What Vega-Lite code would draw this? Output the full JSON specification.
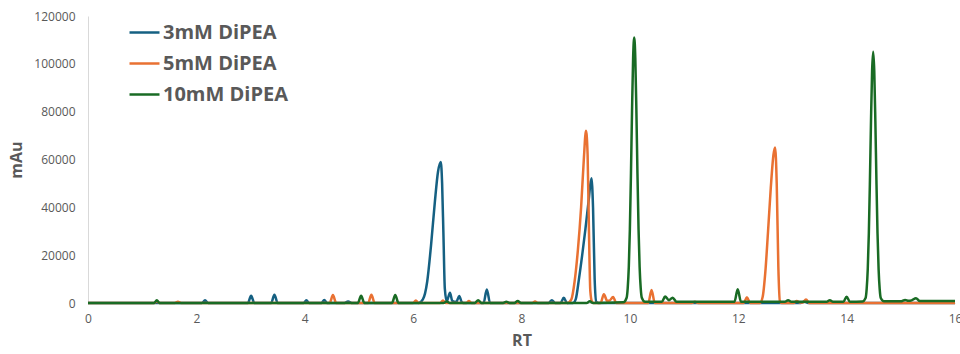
{
  "$schema": "https://vega.github.io/schema/vega-lite/v6.json",
  "autosize": {"type": "none"},
  "padding": {"left": 88, "top": 16, "right": 5, "bottom": 51},
  "width": 867,
  "height": 287,
  "background": "white",
  "config": {
    "view": {"stroke": null},
    "font": "Open Sans",
    "axis": {"grid": false, "ticks": false, "domainColor": "#D9D9D9", "domainWidth": 1, "labelColor": "#595959", "labelFontSize": 12, "titleColor": "#595959", "titleFontSize": 16, "titleFontWeight": "bold"},
    "legend": {"padding": 0}
  },
  "data": {"values": [
    {"series":"3mM DiPEA","rt":0,"mau":0},{"series":"3mM DiPEA","rt":2.10,"mau":0},{"series":"3mM DiPEA","rt":2.16,"mau":1100},{"series":"3mM DiPEA","rt":2.22,"mau":0},
    {"series":"3mM DiPEA","rt":2.95,"mau":0},{"series":"3mM DiPEA","rt":3.01,"mau":3000},{"series":"3mM DiPEA","rt":3.07,"mau":0},
    {"series":"3mM DiPEA","rt":3.38,"mau":0},{"series":"3mM DiPEA","rt":3.44,"mau":3400},{"series":"3mM DiPEA","rt":3.50,"mau":0},
    {"series":"3mM DiPEA","rt":3.98,"mau":0},{"series":"3mM DiPEA","rt":4.03,"mau":1200},{"series":"3mM DiPEA","rt":4.08,"mau":0},
    {"series":"3mM DiPEA","rt":4.31,"mau":0},{"series":"3mM DiPEA","rt":4.36,"mau":1300},{"series":"3mM DiPEA","rt":4.41,"mau":0},
    {"series":"3mM DiPEA","rt":4.72,"mau":0},{"series":"3mM DiPEA","rt":4.80,"mau":600},{"series":"3mM DiPEA","rt":4.88,"mau":0},
    {"series":"3mM DiPEA","rt":6.10,"mau":0},{"series":"3mM DiPEA","rt":6.18,"mau":1500},{"series":"3mM DiPEA","rt":6.26,"mau":9000},{"series":"3mM DiPEA","rt":6.33,"mau":24000},{"series":"3mM DiPEA","rt":6.40,"mau":42000},{"series":"3mM DiPEA","rt":6.46,"mau":55000},{"series":"3mM DiPEA","rt":6.51,"mau":59000},{"series":"3mM DiPEA","rt":6.535,"mau":50000},{"series":"3mM DiPEA","rt":6.56,"mau":28000},{"series":"3mM DiPEA","rt":6.585,"mau":6000},{"series":"3mM DiPEA","rt":6.62,"mau":700},
    {"series":"3mM DiPEA","rt":6.68,"mau":4300},{"series":"3mM DiPEA","rt":6.72,"mau":1000},{"series":"3mM DiPEA","rt":6.76,"mau":500},{"series":"3mM DiPEA","rt":6.80,"mau":600},{"series":"3mM DiPEA","rt":6.85,"mau":2900},{"series":"3mM DiPEA","rt":6.90,"mau":300},{"series":"3mM DiPEA","rt":6.95,"mau":0},
    {"series":"3mM DiPEA","rt":7.30,"mau":0},{"series":"3mM DiPEA","rt":7.36,"mau":5600},{"series":"3mM DiPEA","rt":7.42,"mau":0},
    {"series":"3mM DiPEA","rt":8.50,"mau":0},{"series":"3mM DiPEA","rt":8.56,"mau":1200},{"series":"3mM DiPEA","rt":8.62,"mau":0},
    {"series":"3mM DiPEA","rt":8.72,"mau":0},{"series":"3mM DiPEA","rt":8.78,"mau":2200},{"series":"3mM DiPEA","rt":8.84,"mau":0},
    {"series":"3mM DiPEA","rt":8.95,"mau":0},{"series":"3mM DiPEA","rt":9.00,"mau":1500},{"series":"3mM DiPEA","rt":9.06,"mau":10000},{"series":"3mM DiPEA","rt":9.12,"mau":20000},{"series":"3mM DiPEA","rt":9.18,"mau":31000},{"series":"3mM DiPEA","rt":9.24,"mau":43000},{"series":"3mM DiPEA","rt":9.29,"mau":52200},{"series":"3mM DiPEA","rt":9.32,"mau":40000},{"series":"3mM DiPEA","rt":9.35,"mau":10000},{"series":"3mM DiPEA","rt":9.38,"mau":500},{"series":"3mM DiPEA","rt":9.42,"mau":0},
    {"series":"3mM DiPEA","rt":13.15,"mau":0},{"series":"3mM DiPEA","rt":13.22,"mau":600},{"series":"3mM DiPEA","rt":13.29,"mau":0},{"series":"3mM DiPEA","rt":16,"mau":0},

    {"series":"5mM DiPEA","rt":0,"mau":0},{"series":"5mM DiPEA","rt":1.22,"mau":0},{"series":"5mM DiPEA","rt":1.27,"mau":700},{"series":"5mM DiPEA","rt":1.32,"mau":0},
    {"series":"5mM DiPEA","rt":1.60,"mau":0},{"series":"5mM DiPEA","rt":1.66,"mau":500},{"series":"5mM DiPEA","rt":1.72,"mau":0},
    {"series":"5mM DiPEA","rt":4.46,"mau":0},{"series":"5mM DiPEA","rt":4.52,"mau":3300},{"series":"5mM DiPEA","rt":4.58,"mau":0},
    {"series":"5mM DiPEA","rt":5.17,"mau":0},{"series":"5mM DiPEA","rt":5.23,"mau":3400},{"series":"5mM DiPEA","rt":5.29,"mau":0},
    {"series":"5mM DiPEA","rt":6.00,"mau":0},{"series":"5mM DiPEA","rt":6.05,"mau":1000},{"series":"5mM DiPEA","rt":6.10,"mau":0},
    {"series":"5mM DiPEA","rt":6.50,"mau":0},{"series":"5mM DiPEA","rt":6.55,"mau":1000},{"series":"5mM DiPEA","rt":6.60,"mau":0},
    {"series":"5mM DiPEA","rt":6.98,"mau":0},{"series":"5mM DiPEA","rt":7.03,"mau":800},{"series":"5mM DiPEA","rt":7.08,"mau":0},
    {"series":"5mM DiPEA","rt":8.20,"mau":0},{"series":"5mM DiPEA","rt":8.25,"mau":600},{"series":"5mM DiPEA","rt":8.30,"mau":0},
    {"series":"5mM DiPEA","rt":8.85,"mau":0},{"series":"5mM DiPEA","rt":8.92,"mau":1500},{"series":"5mM DiPEA","rt":8.98,"mau":9000},{"series":"5mM DiPEA","rt":9.04,"mau":22000},{"series":"5mM DiPEA","rt":9.10,"mau":40000},{"series":"5mM DiPEA","rt":9.15,"mau":60000},{"series":"5mM DiPEA","rt":9.19,"mau":72000},{"series":"5mM DiPEA","rt":9.22,"mau":62000},{"series":"5mM DiPEA","rt":9.245,"mau":30000},{"series":"5mM DiPEA","rt":9.27,"mau":5000},{"series":"5mM DiPEA","rt":9.30,"mau":600},{"series":"5mM DiPEA","rt":9.33,"mau":0},
    {"series":"5mM DiPEA","rt":9.46,"mau":0},{"series":"5mM DiPEA","rt":9.52,"mau":3700},{"series":"5mM DiPEA","rt":9.58,"mau":900},{"series":"5mM DiPEA","rt":9.62,"mau":900},{"series":"5mM DiPEA","rt":9.69,"mau":2500},{"series":"5mM DiPEA","rt":9.75,"mau":0},
    {"series":"5mM DiPEA","rt":10.34,"mau":0},{"series":"5mM DiPEA","rt":10.40,"mau":5400},{"series":"5mM DiPEA","rt":10.46,"mau":0},
    {"series":"5mM DiPEA","rt":11.14,"mau":0},{"series":"5mM DiPEA","rt":11.20,"mau":500},{"series":"5mM DiPEA","rt":11.26,"mau":0},
    {"series":"5mM DiPEA","rt":12.10,"mau":0},{"series":"5mM DiPEA","rt":12.16,"mau":2400},{"series":"5mM DiPEA","rt":12.22,"mau":0},
    {"series":"5mM DiPEA","rt":12.40,"mau":0},{"series":"5mM DiPEA","rt":12.45,"mau":2500},{"series":"5mM DiPEA","rt":12.50,"mau":13000},{"series":"5mM DiPEA","rt":12.55,"mau":30000},{"series":"5mM DiPEA","rt":12.60,"mau":48000},{"series":"5mM DiPEA","rt":12.65,"mau":62000},{"series":"5mM DiPEA","rt":12.68,"mau":65000},{"series":"5mM DiPEA","rt":12.71,"mau":50000},{"series":"5mM DiPEA","rt":12.74,"mau":15000},{"series":"5mM DiPEA","rt":12.77,"mau":500},{"series":"5mM DiPEA","rt":12.80,"mau":0},
    {"series":"5mM DiPEA","rt":13.02,"mau":0},{"series":"5mM DiPEA","rt":13.08,"mau":800},{"series":"5mM DiPEA","rt":13.14,"mau":200},{"series":"5mM DiPEA","rt":13.19,"mau":200},{"series":"5mM DiPEA","rt":13.25,"mau":1500},{"series":"5mM DiPEA","rt":13.31,"mau":0},{"series":"5mM DiPEA","rt":16,"mau":0},

    {"series":"10mM DiPEA","rt":0,"mau":0},{"series":"10mM DiPEA","rt":1.22,"mau":0},{"series":"10mM DiPEA","rt":1.27,"mau":1200},{"series":"10mM DiPEA","rt":1.32,"mau":0},
    {"series":"10mM DiPEA","rt":4.98,"mau":0},{"series":"10mM DiPEA","rt":5.04,"mau":3000},{"series":"10mM DiPEA","rt":5.10,"mau":0},
    {"series":"10mM DiPEA","rt":5.61,"mau":0},{"series":"10mM DiPEA","rt":5.67,"mau":3300},{"series":"10mM DiPEA","rt":5.73,"mau":0},
    {"series":"10mM DiPEA","rt":6.56,"mau":0},{"series":"10mM DiPEA","rt":6.62,"mau":600},{"series":"10mM DiPEA","rt":6.68,"mau":0},
    {"series":"10mM DiPEA","rt":7.14,"mau":0},{"series":"10mM DiPEA","rt":7.20,"mau":1200},{"series":"10mM DiPEA","rt":7.26,"mau":0},
    {"series":"10mM DiPEA","rt":7.66,"mau":0},{"series":"10mM DiPEA","rt":7.72,"mau":500},{"series":"10mM DiPEA","rt":7.78,"mau":0},
    {"series":"10mM DiPEA","rt":7.87,"mau":0},{"series":"10mM DiPEA","rt":7.93,"mau":800},{"series":"10mM DiPEA","rt":7.99,"mau":0},
    {"series":"10mM DiPEA","rt":9.20,"mau":0},{"series":"10mM DiPEA","rt":9.26,"mau":700},{"series":"10mM DiPEA","rt":9.32,"mau":0},
    {"series":"10mM DiPEA","rt":9.88,"mau":300},{"series":"10mM DiPEA","rt":9.94,"mau":2200},{"series":"10mM DiPEA","rt":9.96,"mau":6200},{"series":"10mM DiPEA","rt":9.98,"mau":15000},{"series":"10mM DiPEA","rt":10.00,"mau":30900},{"series":"10mM DiPEA","rt":10.02,"mau":54100},{"series":"10mM DiPEA","rt":10.04,"mau":80600},{"series":"10mM DiPEA","rt":10.06,"mau":102500},{"series":"10mM DiPEA","rt":10.08,"mau":111000},{"series":"10mM DiPEA","rt":10.10,"mau":102500},{"series":"10mM DiPEA","rt":10.12,"mau":80600},{"series":"10mM DiPEA","rt":10.14,"mau":54100},{"series":"10mM DiPEA","rt":10.16,"mau":30900},{"series":"10mM DiPEA","rt":10.18,"mau":15000},{"series":"10mM DiPEA","rt":10.20,"mau":6200},{"series":"10mM DiPEA","rt":10.22,"mau":2200},{"series":"10mM DiPEA","rt":10.28,"mau":500},
    {"series":"10mM DiPEA","rt":10.59,"mau":500},{"series":"10mM DiPEA","rt":10.65,"mau":2700},{"series":"10mM DiPEA","rt":10.72,"mau":1200},{"series":"10mM DiPEA","rt":10.79,"mau":2200},{"series":"10mM DiPEA","rt":10.86,"mau":500},
    {"series":"10mM DiPEA","rt":11.93,"mau":500},{"series":"10mM DiPEA","rt":11.99,"mau":5700},{"series":"10mM DiPEA","rt":12.05,"mau":500},
    {"series":"10mM DiPEA","rt":12.86,"mau":500},{"series":"10mM DiPEA","rt":12.92,"mau":1200},{"series":"10mM DiPEA","rt":12.98,"mau":500},
    {"series":"10mM DiPEA","rt":13.63,"mau":500},{"series":"10mM DiPEA","rt":13.69,"mau":1200},{"series":"10mM DiPEA","rt":13.75,"mau":500},
    {"series":"10mM DiPEA","rt":13.94,"mau":500},{"series":"10mM DiPEA","rt":14.00,"mau":2600},{"series":"10mM DiPEA","rt":14.06,"mau":500},
    {"series":"10mM DiPEA","rt":14.29,"mau":600},{"series":"10mM DiPEA","rt":14.35,"mau":2100},{"series":"10mM DiPEA","rt":14.37,"mau":5900},{"series":"10mM DiPEA","rt":14.39,"mau":14200},{"series":"10mM DiPEA","rt":14.41,"mau":29200},{"series":"10mM DiPEA","rt":14.43,"mau":51200},{"series":"10mM DiPEA","rt":14.45,"mau":76300},{"series":"10mM DiPEA","rt":14.47,"mau":97000},{"series":"10mM DiPEA","rt":14.49,"mau":105100},{"series":"10mM DiPEA","rt":14.51,"mau":97000},{"series":"10mM DiPEA","rt":14.53,"mau":76300},{"series":"10mM DiPEA","rt":14.55,"mau":51200},{"series":"10mM DiPEA","rt":14.57,"mau":29200},{"series":"10mM DiPEA","rt":14.59,"mau":14200},{"series":"10mM DiPEA","rt":14.61,"mau":5900},{"series":"10mM DiPEA","rt":14.63,"mau":2100},{"series":"10mM DiPEA","rt":14.69,"mau":700},
    {"series":"10mM DiPEA","rt":15.00,"mau":700},{"series":"10mM DiPEA","rt":15.08,"mau":1300},{"series":"10mM DiPEA","rt":15.14,"mau":900},{"series":"10mM DiPEA","rt":15.20,"mau":1100},{"series":"10mM DiPEA","rt":15.28,"mau":2000},{"series":"10mM DiPEA","rt":15.35,"mau":800},{"series":"10mM DiPEA","rt":16,"mau":800}
  ]},
  "mark": {"type": "line", "interpolate": "monotone", "strokeWidth": 2.5},
  "encoding": {
    "x": {"field": "rt", "type": "quantitative", "title": "RT",
      "scale": {"domain": [0, 16], "nice": false},
      "axis": {"values": [0, 2, 4, 6, 8, 10, 12, 14, 16], "labelFlush": false, "labelPadding": 10, "titlePadding": 8, "domain": true}},
    "y": {"field": "mau", "type": "quantitative", "title": "mAu",
      "scale": {"domain": [0, 120000], "nice": false},
      "axis": {"values": [0, 20000, 40000, 60000, 80000, 100000, 120000], "format": "d", "labelPadding": 13, "titlePadding": 9}},
    "color": {"field": "series", "type": "nominal",
      "scale": {"domain": ["3mM DiPEA", "5mM DiPEA", "10mM DiPEA"], "range": ["#156082", "#E97132", "#196B24"]},
      "legend": {"title": null, "orient": "none", "legendX": 40, "legendY": 0, "symbolType": "stroke", "symbolSize": 900, "symbolStrokeWidth": 2.5, "labelFontSize": 20, "labelFontWeight": "bold", "labelColor": "#595959", "labelOffset": 2, "rowPadding": 4, "labelLimit": 400}}
  }
}
